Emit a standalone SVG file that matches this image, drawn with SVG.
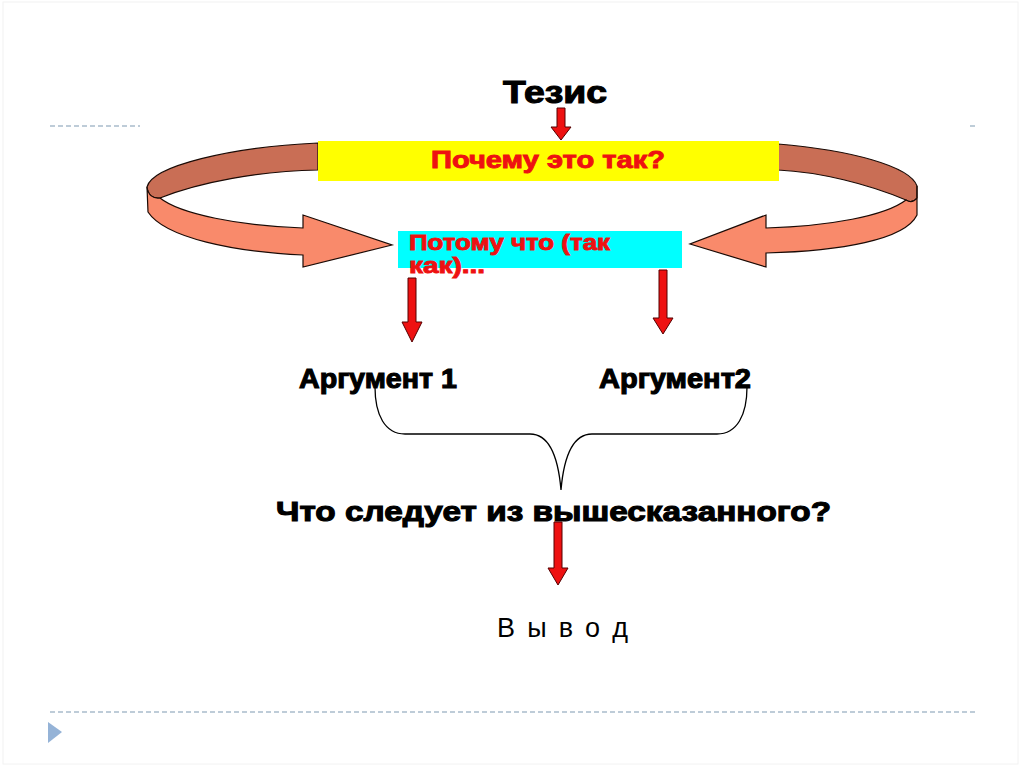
<svg xmlns="http://www.w3.org/2000/svg" width="1024" height="767" viewBox="0 0 1024 767">
<defs>
<style>
.dash{stroke:#a9bccb;stroke-width:1.5;stroke-dasharray:5,3;fill:none}
.red{fill:#ee1111;stroke:#550000;stroke-width:1}
.dark{fill:#c96e55;stroke:#1a0a05;stroke-width:1.2}
.light{fill:#f98a6b;stroke:#1a0a05;stroke-width:1.2}
.b{font-family:"Liberation Sans",Arial,sans-serif;font-weight:bold}
.rt{fill:#ee1111;stroke:#ee1111;stroke-width:0.9}
.bk{fill:#000;stroke:#000;stroke-width:1.1}
</style>
</defs>
<rect width="1024" height="767" fill="#fff"/>
<rect x="3" y="2" width="1015" height="762" fill="none" stroke="#f2f2f2" stroke-width="1"/>
<line class="dash" x1="50" y1="126" x2="140" y2="126"/>
<line class="dash" x1="970" y1="126" x2="975" y2="126"/>
<line class="dash" x1="50" y1="712" x2="975" y2="712"/>
<polygon points="48,722 62,732 48,743" fill="#95b3d7"/>

<g id="loops">
<path class="dark" d="M318,143 C230,147 152,166 147,187 C148,195 153,199 160,198 C200,182 260,171 318,170 Z"/>
<path class="light" d="M147,187 L148,212 C165,238 235,252 303,255 L303,267 L392,245 L303,215 L303,228 C240,226 180,214 160,198 C153,199 148,195 147,187 Z"/>
<path class="dark" d="M778,144 C850,150 910,166 917,186 L917,198 C913,203 909,202 906,200 C868,184 820,172 778,170 Z"/>
<path class="light" d="M917,186 L917,215 C905,240 840,251 766,253 L766,267 L690,244 L766,215 L766,228 C830,226 885,216 906,200 C909,202 913,203 917,198 Z"/>
</g>

<g id="tezis">
<text class="b bk" x="503" y="103" font-size="32" textLength="104" lengthAdjust="spacingAndGlyphs" stroke-width="0.5">Тезис</text>
</g>

<g id="why">
<rect x="318" y="141" width="461" height="40" fill="#ffff00"/>
<text class="b rt" x="431" y="168" font-size="23" textLength="234" lengthAdjust="spacingAndGlyphs">Почему это так?</text>
</g>

<g id="because">
<rect x="398" y="231" width="284" height="37" fill="#00ffff"/>
<text class="b rt" x="409" y="250" font-size="22" textLength="201" lengthAdjust="spacingAndGlyphs">Потому что (так</text>
<text class="b rt" x="409" y="273" font-size="22" textLength="76" lengthAdjust="spacingAndGlyphs">как)...</text>
</g>

<g id="arg1">
<text class="b bk" x="299" y="388" font-size="27" textLength="158" lengthAdjust="spacingAndGlyphs">Аргумент 1</text>
</g>
<g id="arg2">
<text class="b bk" x="599" y="388" font-size="27" textLength="152" lengthAdjust="spacingAndGlyphs">Аргумент2</text>
</g>

<g id="question">
<text class="b bk" x="276" y="521" font-size="28" textLength="555" lengthAdjust="spacingAndGlyphs">Что  следует из вышесказанного?</text>
</g>

<g id="conclusion">
<text x="497" y="637" font-family="'Liberation Sans',Arial,sans-serif" font-size="27" textLength="131" fill="#000">В ы в о д</text>
</g>

<g id="connectors">
<polygon class="red" points="557,108 565,108 565,127 571,127 561,140 551,127 557,127"/>
<polygon class="red" points="408,278 416,278 416,322 422,322 412,342 402,322 408,322"/>
<polygon class="red" points="659,270 667,270 667,318 673,318 663,334 653,318 659,318"/>
<polygon class="red" points="554,522 562,522 562,568 568,568 558,585 548,568 554,568"/>
<path d="M375,387 C375,415 385,434 405,434 L530,434 C548,434 558,455 561,490 C564,455 574,434 592,434 L717,434 C737,434 747,415 747,387" fill="none" stroke="#000" stroke-width="1.3"/>
</g>
</svg>
